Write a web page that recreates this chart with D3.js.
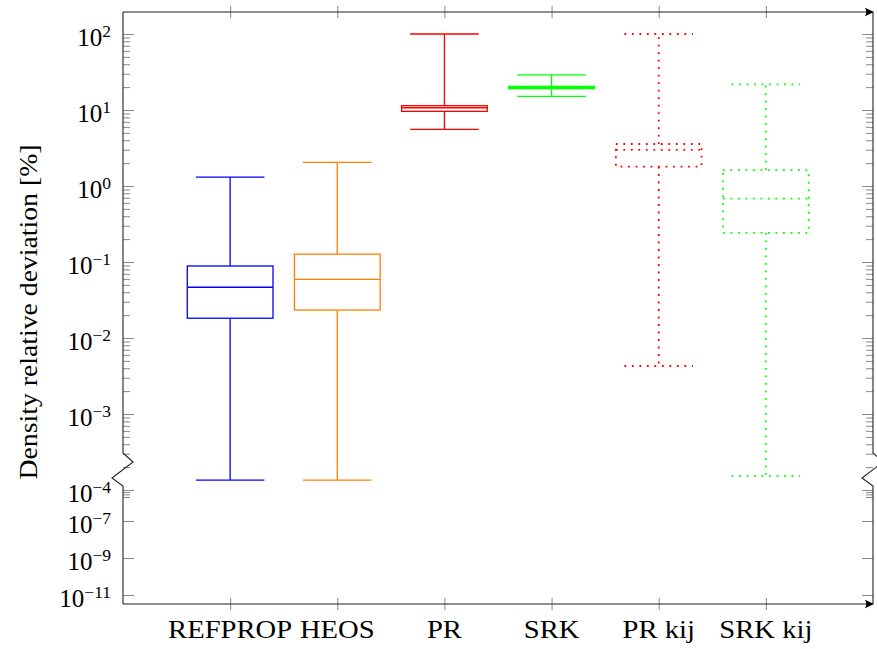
<!DOCTYPE html>
<html>
<head>
<meta charset="utf-8">
<script src="https://cdn.jsdelivr.net/npm/d3@7"></script>
<style>
  body { margin: 0; background: #fff; }
  svg { display: block; }
  text { font-family: "Liberation Serif", "Times New Roman", serif; fill: #000; }
</style>
</head>
<body>
<svg id="chart" width="877" height="649"></svg>
<script>
// Box plot statistics of the density relative deviation [%] per model
const categories    = ["REFPROP", "HEOS", "PR", "SRK", "PR kij", "SRK kij"];
const lowerWhisker  = [1.35e-4, 1.35e-4, 5.57, 15.1, 4.28e-3, 1.53e-4];
const lowerQuartile = [0.0182, 0.0233, 9.6, 19.1, 1.80, 0.241];
const medians       = [0.0465, 0.0592, 10.7, 19.8, 2.98, 0.681];
const upperQuartile = [0.0886, 0.127, 11.4, 20.5, 3.57, 1.62];
const upperWhisker  = [1.31, 2.05, 100, 28.9, 100, 21.8];

// Y axis ticks (log axis with a break below 10^-4)
const majorTicks     = [1e-11, 1e-9, 1e-7, 1e-4, 1e-3, 1e-2, 1e-1, 1, 10, 100];
const majorExponents = ["\u221211", "\u22129", "\u22127", "\u22124", "\u22123", "\u22122", "\u22121", "0", "1", "2"];
const minorMantissas = [2, 3, 4, 5, 6, 7, 8, 9];
const minorDecades   = [-4, -3, -2, -1, 0, 1];
const minorBelowBreak = [9e-5, 8e-5, 7e-5];

// Styling per box
const boxColors = ["#0000ff", "#ff8000", "#ff0000", "#00ff00", "#ff0000", "#00ff00"];
const boxDotted = [false, false, false, false, true, true];

const svg = d3.select("#chart");
const plotLeft = 123, plotRight = 873, plotTop = 12, plotBottom = 604;

const x = d3.scalePoint().domain(categories).range([plotLeft, plotRight]).padding(1);
// Piecewise log scale: full decades above the break, compressed below it
const y = d3.scaleLog()
  .domain([1e-11, 1e-7, 7e-5, 1e-4, 1e2])
  .range([595, 521, 497, 490, 34]);

const minorTicks = minorDecades.flatMap(d => minorMantissas.map(m => m * Math.pow(10, d)))
  .concat(minorBelowBreak);

const tickColor = "#8a8a8a";
const axisColor = "#222";

// Minor and major ticks, left and right (pointing inward)
const yMinorL = d3.axisLeft(y).tickValues(minorTicks).tickSize(-7).tickFormat("");
const yMinorR = d3.axisRight(y).tickValues(minorTicks).tickSize(-7).tickFormat("");
const yMajorL = d3.axisLeft(y).tickValues(majorTicks).tickSize(-11).tickFormat("");
const yMajorR = d3.axisRight(y).tickValues(majorTicks).tickSize(-11).tickFormat("");

[[yMinorL, plotLeft], [yMajorL, plotLeft], [yMinorR, plotRight], [yMajorR, plotRight]].forEach(([ax, pos]) => {
  const g = svg.append("g").attr("transform", `translate(${pos},0)`).call(ax);
  g.select(".domain").remove();
  g.selectAll("line").attr("stroke", tickColor).attr("stroke-width", 1);
});

// X ticks (centered on the top and bottom lines)
[plotTop, plotBottom].forEach(pos => {
  const g = svg.append("g").attr("transform", `translate(0,${pos})`)
    .call(d3.axisBottom(x).tickSize(0).tickFormat(""));
  g.select(".domain").remove();
  g.selectAll(".tick line").attr("y1", -6).attr("y2", 6)
    .attr("stroke", tickColor).attr("stroke-width", 1);
});

// Y tick labels 10^n
const yLabels = svg.append("g");
majorTicks.forEach((v, i) => {
  const t = yLabels.append("text")
    .attr("x", 111).attr("y", y(v) + 11.5)
    .attr("text-anchor", "end")
    .attr("font-size", 25);
  t.append("tspan").text("10");
  t.append("tspan").attr("dy", -9).attr("font-size", 17.5).text(majorExponents[i]);
});

// Category labels
const catLabels = svg.append("g");
categories.forEach(c => {
  const t = catLabels.append("text")
    .attr("x", x(c)).attr("y", 638)
    .attr("text-anchor", "middle")
    .attr("font-size", 26)
    .text(c);
  const w = t.node().getComputedTextLength();
  t.attr("textLength", w * 1.1).attr("lengthAdjust", "spacingAndGlyphs");
});

// Y axis title
svg.append("text")
  .attr("transform", "translate(37,312) rotate(-90)")
  .attr("text-anchor", "middle")
  .attr("font-size", 26)
  .attr("textLength", 335)
  .attr("lengthAdjust", "spacingAndGlyphs")
  .text("Density relative deviation [%]");

// Axis lines with breaks on the vertical sides
const frame = svg.append("g").attr("fill", "none").attr("stroke", axisColor).attr("stroke-width", 1.1);
frame.append("path").attr("d", `M${plotLeft},${plotTop} V453 L${plotLeft + 10},462 L${plotLeft - 11},478 L${plotLeft},486 V${plotBottom}`);
frame.append("path").attr("d", `M${plotRight},${plotTop} V453 L${plotRight + 10},462 L${plotRight - 11},478 L${plotRight},486 V${plotBottom}`);
frame.append("path").attr("d", `M${plotLeft},${plotTop} H${plotRight - 2}`);
frame.append("path").attr("d", `M${plotLeft},${plotBottom} H${plotRight - 2}`);
[plotTop, plotBottom].forEach(pos => {
  svg.append("path")
    .attr("d", `M${plotRight + 1},${pos} L${plotRight - 8},${pos - 4.2} Q${plotRight - 5.5},${pos} ${plotRight - 8},${pos + 4.2} Z`)
    .attr("fill", "#000");
});

// Box plots
const step = x.step();
const boxHalf = 0.4 * step;
const capHalf = 0.32 * step;

categories.forEach((c, i) => {
  const cx = x(c);
  const g = svg.append("g")
    .attr("fill", "none")
    .attr("stroke", boxColors[i])
    .attr("stroke-width", boxDotted[i] ? 1.8 : 1.3)
    .attr("stroke-dasharray", boxDotted[i] ? "1.8,5.7" : null);
  const yq1 = y(lowerQuartile[i]), yq3 = y(upperQuartile[i]);
  g.append("rect")
    .attr("x", cx - boxHalf).attr("y", yq3)
    .attr("width", 2 * boxHalf).attr("height", yq1 - yq3);
  g.append("line")
    .attr("x1", cx - boxHalf).attr("x2", cx + boxHalf)
    .attr("y1", y(medians[i])).attr("y2", y(medians[i]));
  // upper whisker
  g.append("line").attr("x1", cx).attr("x2", cx).attr("y1", yq3).attr("y2", y(upperWhisker[i]));
  g.append("line").attr("x1", cx - capHalf).attr("x2", cx + capHalf)
    .attr("y1", y(upperWhisker[i])).attr("y2", y(upperWhisker[i]));
  // lower whisker
  g.append("line").attr("x1", cx).attr("x2", cx).attr("y1", yq1).attr("y2", y(lowerWhisker[i]));
  g.append("line").attr("x1", cx - capHalf).attr("x2", cx + capHalf)
    .attr("y1", y(lowerWhisker[i])).attr("y2", y(lowerWhisker[i]));
});
</script>
</body>
</html>
